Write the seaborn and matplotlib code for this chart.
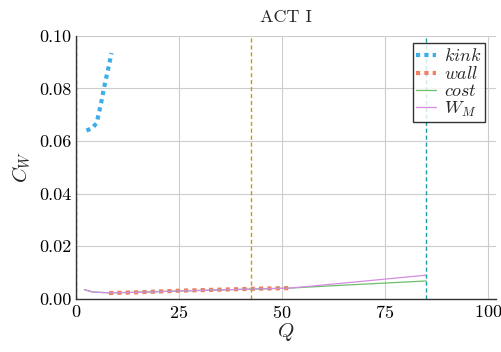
import numpy as np
import pandas as pd
import seaborn as sns
import matplotlib.pyplot as plt

# values
kink_q = [2.5, 4.0, 5.0, 6.0, 7.0, 8.0, 8.6]
kink_c = [0.0640, 0.0650, 0.0670, 0.0740, 0.0820, 0.0890, 0.0935]

wall_q = [8.0, 15.0, 25.0, 35.0, 45.0, 52.0]
wall_c = [0.0022, 0.0025, 0.0031, 0.0035, 0.0039, 0.0041]

cost_q = [2.0, 4.0, 8.0, 15.0, 25.0, 35.0, 45.0, 52.0, 65.0, 75.0, 85.0]
cost_c = [0.0035, 0.0026, 0.0023, 0.0025, 0.0030, 0.0034, 0.0038, 0.0041, 0.0052, 0.0060, 0.0068]

wm_q = [2.0, 4.0, 8.0, 15.0, 25.0, 35.0, 45.0, 52.0, 65.0, 75.0, 85.0]
wm_c = [0.0035, 0.0026, 0.0023, 0.0025, 0.0030, 0.0034, 0.0038, 0.0041, 0.0060, 0.0075, 0.0090]

vlines = [0.0, 42.5, 85.0]
vline_colors = ['#1f9ea0', '#c89a14', '#1f9ea0']

sns.set_theme(style='whitegrid')
plt.rcParams['font.family'] = 'serif'
plt.rcParams['font.serif'] = ['cmr10', 'DejaVu Serif']
plt.rcParams['mathtext.fontset'] = 'cm'
plt.rcParams['axes.formatter.use_mathtext'] = True

fig = plt.figure(figsize=(5.01, 3.52), dpi=100)
ax = fig.add_axes([0.152, 0.151, 0.838, 0.747])

sns.lineplot(x=kink_q, y=kink_c, ax=ax, color='#3daee9', lw=3, ls=(0, (1, 1)), label='$kink$')
sns.lineplot(x=wall_q, y=wall_c, ax=ax, color='#f08060', lw=3, ls=(0, (1, 1)), label='$wall$')
sns.lineplot(x=cost_q, y=cost_c, ax=ax, color='#5cb85c', lw=0.9, alpha=0.9, label='$cost$')
sns.lineplot(x=wm_q, y=wm_c, ax=ax, color='#d68ce0', lw=0.9, label='$W_M$')

for v, c in zip(vlines, vline_colors):
    ax.axvline(v, color=c, lw=1, ls=(0, (3, 2)))

ax.set_xlim(0, 102)
ax.set_ylim(0, 0.1)
ax.set_xticks([0, 25, 50, 75, 100])
ax.set_yticks([0, 0.02, 0.04, 0.06, 0.08, 0.10])
ax.set_yticklabels(['0.00', '0.02', '0.04', '0.06', '0.08', '0.10'])
ax.grid(True, color='#cccccc', lw=0.8)
for s in ['top', 'right']:
    ax.spines[s].set_visible(False)
for s in ['left', 'bottom']:
    ax.spines[s].set_color('#333333')
    ax.spines[s].set_linewidth(1)
ax.tick_params(labelsize=13, length=3, direction='in', colors='#333333', labelcolor='black')
ax.set_xlabel('$Q$', fontsize=15, labelpad=0)
ax.set_ylabel('$C_W$', fontsize=15)
ax.set_title('ACT I', fontsize=13, pad=10)

leg = ax.legend(loc='upper right', bbox_to_anchor=(0.982, 0.985), fontsize=13, frameon=True,
                fancybox=False, handlelength=1.1, borderpad=0.2, labelspacing=0.05,
                handletextpad=0.4, borderaxespad=0.2)
leg.get_frame().set_edgecolor('black')
leg.get_frame().set_linewidth(1)

fig.savefig('out.png', dpi=100)
